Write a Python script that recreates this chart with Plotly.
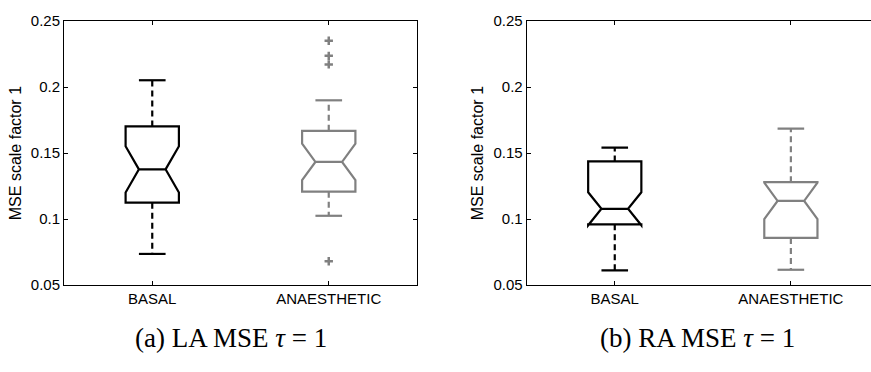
import plotly.graph_objects as go

# ---------------- data ----------------
categories = ["BASAL", "ANAESTHETIC"]
positions = [1, 2]
colors = ["#000000", "#808080"]
y_tick_vals = [0.05, 0.1, 0.15, 0.2, 0.25]
y_tick_text = ["0.05", "0.1", "0.15", "0.2", "0.25"]
y_title = "MSE scale factor 1"

# Panel (a) LA MSE tau=1
la_lower = [0.0736, 0.1025]
la_q1 = [0.1124, 0.1208]
la_median = [0.1377, 0.1433]
la_q3 = [0.1702, 0.1669]
la_upper = [0.2052, 0.1900]
la_notch = [0.0175, 0.0138]
la_outliers = [[], [0.2351, 0.2237, 0.2172, 0.0681]]

# Panel (b) RA MSE tau=1
ra_lower = [0.0611, 0.0616]
ra_q1 = [0.0960, 0.0857]
ra_median = [0.1078, 0.1138]
ra_q3 = [0.1437, 0.1280]
ra_upper = [0.1541, 0.1685]
ra_notch = [0.0125, 0.0138]
ra_outliers = [[], []]

captions = ["(a) LA MSE <i>τ</i> = 1", "(b) RA MSE <i>τ</i> = 1"]

# ---------------- style ----------------
W, H = 871, 372
BOX_W = 0.302
CAP_HALF = BOX_W * 0.25
LW = 2.2
SANS = "Liberation Sans, Arial, sans-serif"
SERIF = "Liberation Serif, Times New Roman, serif"

fig = go.Figure()


def add_panel(xa, ya, lower, q1, med, q3, upper, notch, outliers):
    for i, pos in enumerate(positions):
        c = colors[i]
        # dashed whiskers
        for y0, y1 in ((q3[i], upper[i]), (q1[i], lower[i])):
            fig.add_trace(go.Scatter(
                x=[pos, pos], y=[y0, y1], mode="lines",
                line=dict(color=c, width=LW, dash="6px,4px"),
                xaxis=xa, yaxis=ya, showlegend=False, hoverinfo="skip"))
        # whisker caps
        for yv in (upper[i], lower[i]):
            fig.add_trace(go.Scatter(
                x=[pos - CAP_HALF, pos + CAP_HALF], y=[yv, yv], mode="lines",
                line=dict(color=c, width=LW),
                xaxis=xa, yaxis=ya, showlegend=False, hoverinfo="skip"))
        # notched box
        fig.add_trace(go.Box(
            x=[pos], q1=[q1[i]], median=[med[i]], q3=[q3[i]],
            lowerfence=[q1[i]], upperfence=[q3[i]],
            notched=True, notchspan=[notch[i]], notchwidth=0.25,
            width=BOX_W, whiskerwidth=0, boxpoints=False,
            line=dict(color=c, width=LW), fillcolor="rgba(0,0,0,0)",
            xaxis=xa, yaxis=ya, showlegend=False, hoverinfo="skip"))
        # outliers
        if outliers[i]:
            fig.add_trace(go.Scatter(
                x=[pos] * len(outliers[i]), y=outliers[i], mode="markers",
                marker=dict(symbol="cross-thin", size=6,
                            line=dict(color=c, width=2.5), color=c),
                xaxis=xa, yaxis=ya, showlegend=False, hoverinfo="skip"))


add_panel("x", "y", la_lower, la_q1, la_median, la_q3, la_upper, la_notch, la_outliers)
add_panel("x2", "y2", ra_lower, ra_q1, ra_median, ra_q3, ra_upper, ra_notch, ra_outliers)

y_dom = [(H - 289.3) / H, (H - 12.7) / H]

xcommon = dict(tickvals=positions, ticktext=categories, ticks="inside", ticklen=4,
               tickcolor="black", showline=True, linecolor="black", linewidth=1,
               mirror="ticks", showgrid=False, zeroline=False,
               tickfont=dict(family=SANS, size=15, color="black"))
ycommon = dict(range=[0.05, 0.25], tickvals=y_tick_vals, ticktext=y_tick_text,
               ticks="inside", ticklen=4, tickcolor="black", showline=True,
               linecolor="black", linewidth=1, showgrid=False, zeroline=False,
               tickfont=dict(family=SANS, size=15, color="black"),
               title=dict(text=y_title, font=dict(family=SANS, size=16, color="black"),
                          standoff=5),
               domain=y_dom)

fig.update_layout(
    width=W, height=H, margin=dict(l=0, r=0, t=0, b=0),
    paper_bgcolor="white", plot_bgcolor="white", showlegend=False,
    xaxis=dict(domain=[64 / W, 417 / W], range=[0.5, 2.5], anchor="y", **xcommon),
    yaxis=dict(anchor="x", mirror="ticks", **ycommon),
    xaxis2=dict(domain=[526.7 / W, 1.0], range=[0.5, 2.455], anchor="y2", **xcommon),
    yaxis2=dict(anchor="x2", mirror=False, **ycommon),
    annotations=[
        dict(text=captions[0], x=231 / W, y=1 - 345 / H, xref="paper", yref="paper",
             xanchor="center", yanchor="middle", showarrow=False,
             font=dict(family=SERIF, size=27, color="black")),
        dict(text=captions[1], x=697 / W, y=1 - 345 / H, xref="paper", yref="paper",
             xanchor="center", yanchor="middle", showarrow=False,
             font=dict(family=SERIF, size=27, color="black")),
    ],
)

fig.write_html("out.html")
